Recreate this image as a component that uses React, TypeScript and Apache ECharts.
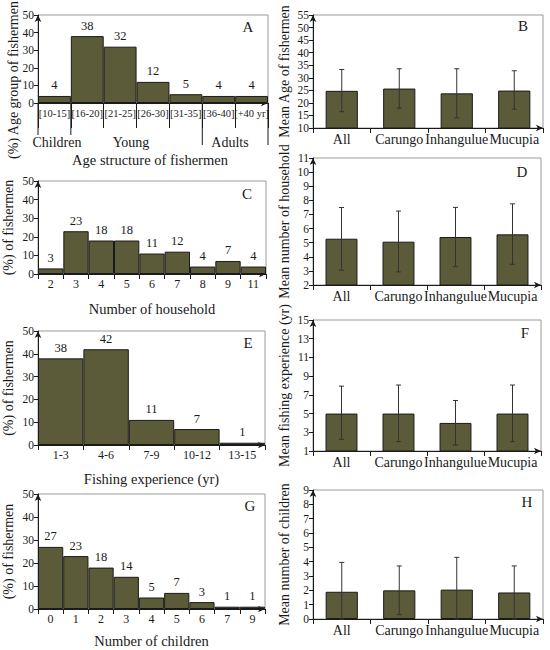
import React, { useEffect, useRef } from "react";
import * as echarts from "echarts";

// ---- Data ----
const ageCats = ["[10-15]", "[16-20]", "[21-25]", "[26-30]", "[31-35]", "[36-40]", "[+40 yr]"];
const ageVals = [4, 38, 32, 12, 5, 4, 4];
const ageGroupBounds = [0, 1, 5, 7];

const householdCats = ["2", "3", "4", "5", "6", "7", "8", "9", "11"];
const householdVals = [3, 23, 18, 18, 11, 12, 4, 7, 4];

const experienceCats = ["1-3", "4-6", "7-9", "10-12", "13-15"];
const experienceVals = [38, 42, 11, 7, 1];

const childrenCats = ["0", "1", "2", "3", "4", "5", "6", "7", "9"];
const childrenVals = [27, 23, 18, 14, 5, 7, 3, 1, 1];

const sites = ["All", "Carungo", "Inhangulue", "Mucupia"];
const meanAge = [24.8, 25.7, 23.8, 24.9];
const meanAgeLow = [16.5, 17.9, 14.0, 17.5];
const meanAgeHigh = [33.3, 33.6, 33.6, 32.8];

const meanHousehold = [5.28, 5.07, 5.4, 5.59];
const meanHouseholdLow = [3.05, 2.93, 3.3, 3.47];
const meanHouseholdHigh = [7.49, 7.24, 7.5, 7.75];

const meanExperience = [5.0, 5.0, 4.0, 5.0];
const meanExperienceLow = [2.25, 2.0, 1.64, 2.0];
const meanExperienceHigh = [7.93, 8.05, 6.4, 8.05];

const meanChildren = [1.9, 2.0, 2.05, 1.85];
const meanChildrenLow = [0, 0.3, 0, 0];
const meanChildrenHigh = [3.95, 3.7, 4.3, 3.7];

const SERIF = "'Liberation Serif', 'Times New Roman', serif";
const BAR = "#5c5b39";
const INK = "#1a1a1a";

const grids = [
  { left: 38, top: 15, width: 230, height: 88 },   // A
  { left: 313, top: 15, width: 230, height: 113 }, // B
  { left: 38, top: 181, width: 228, height: 93 },  // C
  { left: 313, top: 158, width: 228, height: 127 },// D
  { left: 38, top: 331, width: 227, height: 114 }, // E
  { left: 313, top: 320, width: 228, height: 131 },// F
  { left: 38, top: 494, width: 227, height: 115 }, // G
  { left: 313, top: 490, width: 230, height: 129 },// H
];

function xAxisDef(i: number, cats: string[], opts: any) {
  return {
    type: "category",
    gridIndex: i,
    data: cats,
    boundaryGap: true,
    axisLine: {
      show: true,
      onZero: false,
      symbol: ["none", "arrow"],
      symbolSize: [5, 7],
      lineStyle: { color: INK, width: 1 },
    },
    axisTick: { show: true, length: opts.tickLen ?? 5, lineStyle: { color: INK } },
    axisLabel: {
      fontFamily: SERIF,
      fontSize: opts.labelSize,
      color: INK,
      margin: opts.labelMargin ?? 4,
      interval: 0,
    },
    splitLine: { show: false },
    name: opts.name ?? "",
    nameLocation: "middle",
    nameGap: opts.nameGap ?? 25,
    nameTextStyle: { fontFamily: SERIF, fontSize: 14.5, color: INK },
  };
}

function yAxisDef(i: number, min: number, max: number, interval: number, name: string, nameGap: number) {
  return {
    type: "value",
    gridIndex: i,
    min,
    max,
    interval,
    axisLine: {
      show: true,
      onZero: false,
      symbol: ["none", "arrow"],
      symbolSize: [5, 7],
      lineStyle: { color: INK, width: 1 },
    },
    axisTick: { show: true, length: 4, lineStyle: { color: INK } },
    axisLabel: { fontFamily: SERIF, fontSize: 11.5, color: INK, margin: 4 },
    splitLine: { show: false },
    name,
    nameLocation: "middle",
    nameGap,
    nameTextStyle: { fontFamily: SERIF, fontSize: 14, color: INK },
  };
}

function histSeries(i: number, vals: number[]) {
  return {
    type: "bar",
    xAxisIndex: i,
    yAxisIndex: i,
    data: vals,
    barCategoryGap: "0%",
    itemStyle: { color: BAR, borderColor: INK, borderWidth: 1 },
    label: {
      show: true,
      position: "top",
      distance: 4,
      fontFamily: SERIF,
      fontSize: 12.5,
      color: INK,
    },
  };
}

function meanSeries(i: number, vals: number[]) {
  return {
    type: "bar",
    xAxisIndex: i,
    yAxisIndex: i,
    data: vals,
    barWidth: "56%",
    itemStyle: { color: BAR, borderColor: INK, borderWidth: 1 },
  };
}

function errorSeries(i: number, low: number[], high: number[]) {
  return {
    type: "custom",
    xAxisIndex: i,
    yAxisIndex: i,
    z: 10,
    data: low.map((l, k) => [k, l, high[k]]),
    renderItem: (params: any, api: any) => {
      const top = api.coord([api.value(0), api.value(2)]);
      const bot = api.coord([api.value(0), api.value(1)]);
      const x = top[0];
      const c = 2.5;
      const style = { stroke: "#333", lineWidth: 1 };
      return {
        type: "group",
        children: [
          { type: "line", shape: { x1: x, y1: top[1], x2: x, y2: bot[1] }, style },
          { type: "line", shape: { x1: x - c, y1: top[1], x2: x + c, y2: top[1] }, style },
          { type: "line", shape: { x1: x - c, y1: bot[1], x2: x + c, y2: bot[1] }, style },
        ],
      };
    },
  };
}

function groupLines(i: number, bounds: number[], nCats: number) {
  return {
    type: "custom",
    xAxisIndex: i,
    yAxisIndex: i,
    clip: false,
    silent: true,
    data: bounds.map((b) => [b]),
    renderItem: (params: any, api: any) => {
      const b = api.value(0);
      const idx = Math.min(b, nCats - 1);
      const p = api.coord([idx, 0]);
      const half = api.size([1, 0])[0] / 2;
      const x = b < nCats ? p[0] - half : p[0] + half;
      const len = params.dataIndex < 2 ? 32 : 42;
      return {
        type: "line",
        shape: { x1: x, y1: p[1], x2: x, y2: p[1] + len },
        style: { stroke: INK, lineWidth: 1 },
      };
    },
  };
}

function letter(text: string, x: number, y: number) {
  return {
    type: "text",
    x,
    y,
    style: {
      text,
      fontFamily: SERIF,
      fontSize: 15,
      fill: INK,
      textAlign: "center",
      textVerticalAlign: "middle",
    },
  };
}

export default function App() {
  const ref = useRef<HTMLDivElement>(null);
  useEffect(() => {
    if (!ref.current) return;
    const chart = echarts.init(ref.current, undefined, { renderer: "svg" });
    const option: any = {
      animation: false,
      backgroundColor: "#ffffff",
      grid: grids.map((g) => ({
        ...g,
        show: true,
        borderColor: "#9a9a9a",
        borderWidth: 1,
        backgroundColor: "transparent",
        containLabel: false,
      })),
      xAxis: [
        xAxisDef(0, ageCats, { labelSize: 10.5, tickLen: 25, labelMargin: 5 }),
        xAxisDef(1, sites, { labelSize: 14, labelMargin: 4 }),
        xAxisDef(2, householdCats, { labelSize: 12, name: "Number of household", nameGap: 27 }),
        xAxisDef(3, sites, { labelSize: 14, labelMargin: 4 }),
        xAxisDef(4, experienceCats, { labelSize: 12, name: "Fishing experience (yr)", nameGap: 26 }),
        xAxisDef(5, sites, { labelSize: 14, labelMargin: 4 }),
        xAxisDef(6, childrenCats, { labelSize: 12, name: "Number of children", nameGap: 24 }),
        xAxisDef(7, sites, { labelSize: 14, labelMargin: 4 }),
      ],
      yAxis: [
        yAxisDef(0, 0, 50, 10, "", 22),
        yAxisDef(1, 10, 55, 5, "Mean Age of fishermen", 22),
        yAxisDef(2, 0, 50, 10, "(%) of fishermen", 23),
        yAxisDef(3, 2, 11, 1, "Mean number of household", 22),
        yAxisDef(4, 0, 50, 10, "(%) of fishermen", 23),
        yAxisDef(5, 1, 15, 2, "Mean fishing experience (yr)", 22),
        yAxisDef(6, 0, 50, 10, "(%) of fishermen", 23),
        yAxisDef(7, 0, 9, 1, "Mean number of children", 22),
      ],
      series: [
        histSeries(0, ageVals),
        groupLines(0, ageGroupBounds, ageCats.length),
        meanSeries(1, meanAge),
        errorSeries(1, meanAgeLow, meanAgeHigh),
        histSeries(2, householdVals),
        meanSeries(3, meanHousehold),
        errorSeries(3, meanHouseholdLow, meanHouseholdHigh),
        histSeries(4, experienceVals),
        meanSeries(5, meanExperience),
        errorSeries(5, meanExperienceLow, meanExperienceHigh),
        histSeries(6, childrenVals),
        meanSeries(7, meanChildren),
        errorSeries(7, meanChildrenLow, meanChildrenHigh),
      ],
      graphic: [
        {
          type: "text",
          x: 13,
          y: 80,
          rotation: Math.PI / 2,
          style: {
            text: "(%) Age group of fishermen",
            fontFamily: SERIF,
            fontSize: 14,
            fill: INK,
            textAlign: "center",
            textVerticalAlign: "middle",
          },
        },
        {
          type: "text",
          x: 150,
          y: 160,
          style: {
            text: "Age structure of fishermen",
            fontFamily: SERIF,
            fontSize: 14.5,
            fill: INK,
            textAlign: "center",
            textVerticalAlign: "middle",
          },
        },
        ...["Children", "Young", "Adults"].map((t, k) => ({
          type: "text",
          x: [57, 131, 230][k],
          y: 142,
          style: {
            text: t,
            fontFamily: SERIF,
            fontSize: 14,
            fill: INK,
            textAlign: "center",
            textVerticalAlign: "middle",
          },
        })),
        letter("A", 248, 27),
        letter("B", 523, 26),
        letter("C", 247, 194),
        letter("D", 522, 172),
        letter("E", 248, 343),
        letter("F", 525, 333),
        letter("G", 250, 506),
        letter("H", 527, 502),
      ],
    };
    chart.setOption(option);
    return () => chart.dispose();
  }, []);
  return (
    <div
      ref={ref}
      style={{ position: "absolute", left: 0, top: 0, width: 550, height: 650 }}
    />
  );
}
